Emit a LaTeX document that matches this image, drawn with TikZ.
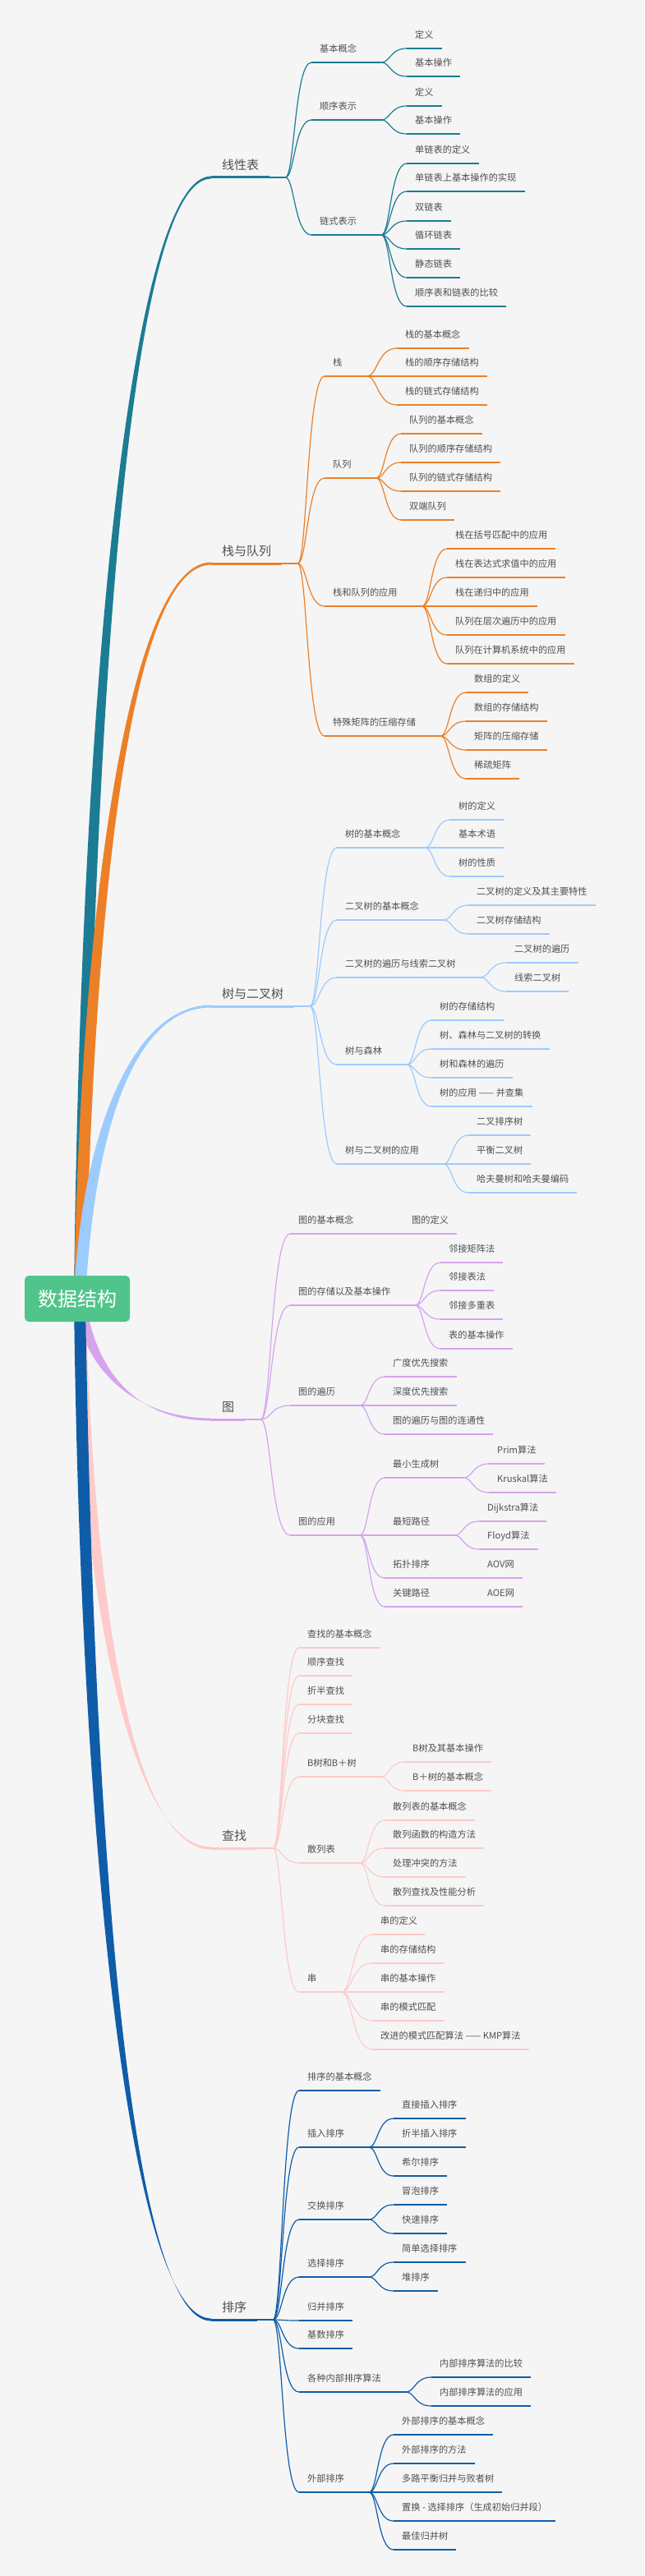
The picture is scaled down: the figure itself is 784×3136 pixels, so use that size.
\documentclass[tikz,border=0pt]{standalone}
\usepackage{fontspec}
\setmainfont{Noto Sans CJK SC}
\usetikzlibrary{calc}

\definecolor{bgGray}{HTML}{F5F5F5}
\definecolor{txtGray}{HTML}{505050}
\definecolor{rootGreen}{HTML}{50C48A}
\definecolor{colLin}{HTML}{1B7C93}
\definecolor{colStk}{HTML}{EC8027}
\definecolor{colTre}{HTML}{9DCBFD}
\definecolor{colGra}{HTML}{D5A4EC}
\definecolor{colSea}{HTML}{FFCACA}
\definecolor{colSrt}{HTML}{0F5DA8}

\begin{document}
\begin{tikzpicture}[x=1pt,y=-1pt,
  lbl/.style={anchor=south west,inner xsep=10pt,inner ysep=12pt,text depth=0pt,
    text=txtGray,font=\fontsize{11.2}{13}\selectfont},
  topic/.style={anchor=south west,inner xsep=13pt,inner ysep=9.5pt,text depth=0pt,
    text=txtGray,font=\fontsize{15}{18}\selectfont},
  rootbox/.style={fill=rootGreen,rounded corners=5pt,text=white,
    font=\fontsize{24}{28}\selectfont,minimum width=128pt,minimum height=56pt},
  twig/.style={line width=1.2pt},
  trunk/.style={line width=3pt}]
  \fill[bgGray] (0,0) rectangle (784,3136);
  \useasboundingbox (0,0) rectangle (784,3136);

  % linear lists
  \begin{scope}[color=colLin]
    \node[topic] (lin) at (257,216) {线性表};
    \coordinate (linFork) at ($(lin.south east)+(19,0)$);
    \node[lbl] (linA) at (379,76) {基本概念};
    \node[lbl] (linA1) at (495,59) {定义};
    \node[lbl] (linA2) at (495,93) {基本操作};
    \node[lbl] (linB) at (379,146) {顺序表示};
    \node[lbl] (linB1) at (495,129) {定义};
    \node[lbl] (linB2) at (495,163) {基本操作};
    \node[lbl] (linC) at (379,286) {链式表示};
    \node[lbl] (linC1) at (495,199) {单链表的定义};
    \node[lbl] (linC2) at (495,233) {单链表上基本操作的实现};
    \node[lbl] (linC3) at (495,269) {双链表};
    \node[lbl] (linC4) at (495,303) {循环链表};
    \node[lbl] (linC5) at (495,338) {静态链表};
    \node[lbl] (linC6) at (495,373) {顺序表和链表的比较};
    \foreach \n in {linA1,linA2,linB1,linB2,linC1,linC2,linC3,linC4,linC5,linC6}
      \draw[twig] (\n.south west) -- (\n.south east);
    \foreach \n in {linA,linB,linC}{
      \coordinate (\n Fork) at ($(\n.south east)+(20,0)$);
      \draw[twig] (\n.south west) -- (\n Fork);
    }
    \foreach \f/\c in {linFork/linA,linFork/linB,linFork/linC,linAFork/linA1,linAFork/linA2,
        linBFork/linB1,linBFork/linB2,linCFork/linC1,linCFork/linC2,linCFork/linC3,
        linCFork/linC4,linCFork/linC5,linCFork/linC6}
      \draw[twig] (\f) .. controls ($(\f)!0.35!(\f-|\c.south west)$)
        and ($(\f|-\c.south west)!0.35!(\c.south west)$) .. (\c.south west);
  \end{scope}

  % stacks and queues
  \begin{scope}[color=colStk]
    \node[topic] (stk) at (257,686) {栈与队列};
    \coordinate (stkFork) at ($(stk.south east)+(19,0)$);
    \node[lbl] (stkA) at (395,458) {栈};
    \node[lbl] (stkA1) at (483,424) {栈的基本概念};
    \node[lbl] (stkA2) at (483,458) {栈的顺序存储结构};
    \node[lbl] (stkA3) at (483,493) {栈的链式存储结构};
    \node[lbl] (stkB) at (395,582) {队列};
    \node[lbl] (stkB1) at (488,528) {队列的基本概念};
    \node[lbl] (stkB2) at (488,563) {队列的顺序存储结构};
    \node[lbl] (stkB3) at (488,598) {队列的链式存储结构};
    \node[lbl] (stkB4) at (488,633) {双端队列};
    \node[lbl] (stkC) at (395,738) {栈和队列的应用};
    \node[lbl] (stkC1) at (544,668) {栈在括号匹配中的应用};
    \node[lbl] (stkC2) at (544,703) {栈在表达式求值中的应用};
    \node[lbl] (stkC3) at (544,738) {栈在递归中的应用};
    \node[lbl] (stkC4) at (544,773) {队列在层次遍历中的应用};
    \node[lbl] (stkC5) at (544,808) {队列在计算机系统中的应用};
    \node[lbl] (stkD) at (395,896) {特殊矩阵的压缩存储};
    \node[lbl] (stkD1) at (567,843) {数组的定义};
    \node[lbl] (stkD2) at (567,878) {数组的存储结构};
    \node[lbl] (stkD3) at (567,913) {矩阵的压缩存储};
    \node[lbl] (stkD4) at (567,948) {稀疏矩阵};
    \foreach \n in {stkA1,stkA2,stkA3,stkB1,stkB2,stkB3,stkB4,stkC1,stkC2,stkC3,stkC4,
        stkC5,stkD1,stkD2,stkD3,stkD4}
      \draw[twig] (\n.south west) -- (\n.south east);
    \foreach \n in {stkA,stkB,stkC,stkD}{
      \coordinate (\n Fork) at ($(\n.south east)+(20,0)$);
      \draw[twig] (\n.south west) -- (\n Fork);
    }
    \foreach \f/\c in {stkFork/stkA,stkFork/stkB,stkFork/stkC,stkFork/stkD,
        stkAFork/stkA1,stkAFork/stkA2,stkAFork/stkA3,stkBFork/stkB1,stkBFork/stkB2,
        stkBFork/stkB3,stkBFork/stkB4,stkCFork/stkC1,stkCFork/stkC2,stkCFork/stkC3,
        stkCFork/stkC4,stkCFork/stkC5,stkDFork/stkD1,stkDFork/stkD2,stkDFork/stkD3,
        stkDFork/stkD4}
      \draw[twig] (\f) .. controls ($(\f)!0.35!(\f-|\c.south west)$)
        and ($(\f|-\c.south west)!0.35!(\c.south west)$) .. (\c.south west);
  \end{scope}

  % trees
  \begin{scope}[color=colTre]
    \node[topic] (tre) at (257,1225) {树与二叉树};
    \coordinate (treFork) at ($(tre.south east)+(19,0)$);
    \node[lbl] (treA) at (410,1032) {树的基本概念};
    \node[lbl] (treA1) at (548,998) {树的定义};
    \node[lbl] (treA2) at (548,1032) {基本术语};
    \node[lbl] (treA3) at (548,1067) {树的性质};
    \node[lbl] (treB) at (410,1120) {二叉树的基本概念};
    \node[lbl] (treB1) at (570,1102) {二叉树的定义及其主要特性};
    \node[lbl] (treB2) at (570,1137) {二叉树存储结构};
    \node[lbl] (treC) at (410,1190) {二叉树的遍历与线索二叉树};
    \node[lbl] (treC1) at (616,1172) {二叉树的遍历};
    \node[lbl] (treC2) at (616,1207) {线索二叉树};
    \node[lbl] (treD) at (410,1296) {树与森林};
    \node[lbl] (treD1) at (525,1242) {树的存储结构};
    \node[lbl] (treD2) at (525,1277) {树、森林与二叉树的转换};
    \node[lbl] (treD3) at (525,1312) {树和森林的遍历};
    \node[lbl] (treD4) at (525,1347) {树的应用 —— 并查集};
    \node[lbl] (treE) at (410,1417) {树与二叉树的应用};
    \node[lbl] (treE1) at (570,1382) {二叉排序树};
    \node[lbl] (treE2) at (570,1417) {平衡二叉树};
    \node[lbl] (treE3) at (570,1452) {哈夫曼树和哈夫曼编码};
    \foreach \n in {treA1,treA2,treA3,treB1,treB2,treC1,treC2,treD1,treD2,treD3,treD4,
        treE1,treE2,treE3}
      \draw[twig] (\n.south west) -- (\n.south east);
    \foreach \n in {treA,treB,treC,treD,treE}{
      \coordinate (\n Fork) at ($(\n.south east)+(20,0)$);
      \draw[twig] (\n.south west) -- (\n Fork);
    }
    \foreach \f/\c in {treFork/treA,treFork/treB,treFork/treC,treFork/treD,treFork/treE,
        treAFork/treA1,treAFork/treA2,treAFork/treA3,treBFork/treB1,treBFork/treB2,
        treCFork/treC1,treCFork/treC2,treDFork/treD1,treDFork/treD2,treDFork/treD3,
        treDFork/treD4,treEFork/treE1,treEFork/treE2,treEFork/treE3}
      \draw[twig] (\f) .. controls ($(\f)!0.35!(\f-|\c.south west)$)
        and ($(\f|-\c.south west)!0.35!(\c.south west)$) .. (\c.south west);
  \end{scope}

  % graphs
  \begin{scope}[color=colGra]
    \node[topic] (gra) at (257,1728) {图};
    \coordinate (graFork) at ($(gra.south east)+(19,0)$);
    \node[lbl] (graA) at (353,1502) {图的基本概念};
    \node[lbl] (graA1) at (491,1502) {图的定义};
    \node[lbl] (graB) at (353,1589) {图的存储以及基本操作};
    \node[lbl] (graB1) at (536,1537) {邻接矩阵法};
    \node[lbl] (graB2) at (536,1571) {邻接表法};
    \node[lbl] (graB3) at (536,1606) {邻接多重表};
    \node[lbl] (graB4) at (536,1642) {表的基本操作};
    \node[lbl] (graC) at (353,1711) {图的遍历};
    \node[lbl] (graC1) at (468,1676) {广度优先搜索};
    \node[lbl] (graC2) at (468,1711) {深度优先搜索};
    \node[lbl] (graC3) at (468,1746) {图的遍历与图的连通性};
    \node[lbl] (graD) at (353,1869) {图的应用};
    \node[lbl] (graD1) at (468,1799) {最小生成树};
    \node[lbl] (graD11) at (595,1782) {Prim算法};
    \node[lbl] (graD12) at (595,1817) {Kruskal算法};
    \node[lbl] (graD2) at (468,1869) {最短路径};
    \node[lbl] (graD21) at (583,1852) {Dijkstra算法};
    \node[lbl] (graD22) at (583,1886) {Floyd算法};
    \node[lbl] (graD3) at (468,1921) {拓扑排序};
    \node[lbl] (graD31) at (583,1921) {AOV网};
    \node[lbl] (graD4) at (468,1956) {关键路径};
    \node[lbl] (graD41) at (583,1956) {AOE网};
    \foreach \n in {graA1,graB1,graB2,graB3,graB4,graC1,graC2,graC3,graD11,graD12,
        graD21,graD22,graD31,graD41}
      \draw[twig] (\n.south west) -- (\n.south east);
    \foreach \n in {graA,graB,graC,graD,graD1,graD2,graD3,graD4}{
      \coordinate (\n Fork) at ($(\n.south east)+(20,0)$);
      \draw[twig] (\n.south west) -- (\n Fork);
    }
    \foreach \f/\c in {graFork/graA,graFork/graB,graFork/graC,graFork/graD,
        graAFork/graA1,graBFork/graB1,graBFork/graB2,graBFork/graB3,graBFork/graB4,
        graCFork/graC1,graCFork/graC2,graCFork/graC3,graDFork/graD1,graDFork/graD2,
        graDFork/graD3,graDFork/graD4,graD1Fork/graD11,graD1Fork/graD12,
        graD2Fork/graD21,graD2Fork/graD22,graD3Fork/graD31,graD4Fork/graD41}
      \draw[twig] (\f) .. controls ($(\f)!0.35!(\f-|\c.south west)$)
        and ($(\f|-\c.south west)!0.35!(\c.south west)$) .. (\c.south west);
  \end{scope}

  % searching
  \begin{scope}[color=colSea]
    \node[topic] (sea) at (257,2250) {查找};
    \coordinate (seaFork) at ($(sea.south east)+(19,0)$);
    \node[lbl] (seaA) at (364,2006) {查找的基本概念};
    \node[lbl] (seaB) at (364,2040) {顺序查找};
    \node[lbl] (seaC) at (364,2075) {折半查找};
    \node[lbl] (seaD) at (364,2110) {分块查找};
    \node[lbl] (seaE) at (364,2163) {B树和B＋树};
    \node[lbl] (seaE1) at (492,2145) {B树及其基本操作};
    \node[lbl] (seaE2) at (492,2180) {B＋树的基本概念};
    \node[lbl] (seaF) at (364,2268) {散列表};
    \node[lbl] (seaF1) at (468,2216) {散列表的基本概念};
    \node[lbl] (seaF2) at (468,2250) {散列函数的构造方法};
    \node[lbl] (seaF3) at (468,2285) {处理冲突的方法};
    \node[lbl] (seaF4) at (468,2320) {散列查找及性能分析};
    \node[lbl] (seaG) at (364,2425) {串};
    \node[lbl] (seaG1) at (453,2355) {串的定义};
    \node[lbl] (seaG2) at (453,2390) {串的存储结构};
    \node[lbl] (seaG3) at (453,2425) {串的基本操作};
    \node[lbl] (seaG4) at (453,2460) {串的模式匹配};
    \node[lbl] (seaG5) at (453,2495) {改进的模式匹配算法 —— KMP算法};
    \foreach \n in {seaA,seaB,seaC,seaD,seaE1,seaE2,seaF1,seaF2,seaF3,seaF4,seaG1,
        seaG2,seaG3,seaG4,seaG5}
      \draw[twig] (\n.south west) -- (\n.south east);
    \foreach \n in {seaE,seaF,seaG}{
      \coordinate (\n Fork) at ($(\n.south east)+(20,0)$);
      \draw[twig] (\n.south west) -- (\n Fork);
    }
    \foreach \f/\c in {seaFork/seaA,seaFork/seaB,seaFork/seaC,seaFork/seaD,seaFork/seaE,
        seaFork/seaF,seaFork/seaG,seaEFork/seaE1,seaEFork/seaE2,seaFFork/seaF1,
        seaFFork/seaF2,seaFFork/seaF3,seaFFork/seaF4,seaGFork/seaG1,seaGFork/seaG2,
        seaGFork/seaG3,seaGFork/seaG4,seaGFork/seaG5}
      \draw[twig] (\f) .. controls ($(\f)!0.35!(\f-|\c.south west)$)
        and ($(\f|-\c.south west)!0.35!(\c.south west)$) .. (\c.south west);
  \end{scope}

  % sorting
  \begin{scope}[color=colSrt]
    \node[topic] (srt) at (257,2824) {排序};
    \coordinate (srtFork) at ($(srt.south east)+(19,0)$);
    \node[lbl] (srtA) at (364,2545) {排序的基本概念};
    \node[lbl] (srtB) at (364,2614) {插入排序};
    \node[lbl] (srtB1) at (479,2579) {直接插入排序};
    \node[lbl] (srtB2) at (479,2614) {折半插入排序};
    \node[lbl] (srtB3) at (479,2649) {希尔排序};
    \node[lbl] (srtC) at (364,2702) {交换排序};
    \node[lbl] (srtC1) at (479,2684) {冒泡排序};
    \node[lbl] (srtC2) at (479,2719) {快速排序};
    \node[lbl] (srtD) at (364,2772) {选择排序};
    \node[lbl] (srtD1) at (479,2754) {简单选择排序};
    \node[lbl] (srtD2) at (479,2789) {堆排序};
    \node[lbl] (srtE) at (364,2825) {归并排序};
    \node[lbl] (srtF) at (364,2859) {基数排序};
    \node[lbl] (srtG) at (364,2912) {各种内部排序算法};
    \node[lbl] (srtG1) at (525,2894) {内部排序算法的比较};
    \node[lbl] (srtG2) at (525,2929) {内部排序算法的应用};
    \node[lbl] (srtH) at (364,3034) {外部排序};
    \node[lbl] (srtH1) at (479,2964) {外部排序的基本概念};
    \node[lbl] (srtH2) at (479,2999) {外部排序的方法};
    \node[lbl] (srtH3) at (479,3034) {多路平衡归并与败者树};
    \node[lbl] (srtH4) at (479,3069) {置换 - 选择排序（生成初始归并段）};
    \node[lbl] (srtH5) at (479,3104) {最佳归并树};
    \foreach \n in {srtA,srtB1,srtB2,srtB3,srtC1,srtC2,srtD1,srtD2,srtE,srtF,srtG1,
        srtG2,srtH1,srtH2,srtH3,srtH4,srtH5}
      \draw[twig] (\n.south west) -- (\n.south east);
    \foreach \n in {srtB,srtC,srtD,srtG,srtH}{
      \coordinate (\n Fork) at ($(\n.south east)+(20,0)$);
      \draw[twig] (\n.south west) -- (\n Fork);
    }
    \foreach \f/\c in {srtFork/srtA,srtFork/srtB,srtFork/srtC,srtFork/srtD,srtFork/srtE,
        srtFork/srtF,srtFork/srtG,srtFork/srtH,srtBFork/srtB1,srtBFork/srtB2,
        srtBFork/srtB3,srtCFork/srtC1,srtCFork/srtC2,srtDFork/srtD1,srtDFork/srtD2,
        srtGFork/srtG1,srtGFork/srtG2,srtHFork/srtH1,srtHFork/srtH2,srtHFork/srtH3,
        srtHFork/srtH4,srtHFork/srtH5}
      \draw[twig] (\f) .. controls ($(\f)!0.35!(\f-|\c.south west)$)
        and ($(\f|-\c.south west)!0.35!(\c.south west)$) .. (\c.south west);
  \end{scope}

  % main branches from the root
  \foreach \n/\yy/\cc in {lin/216/colLin,stk/686/colStk,tre/1225/colTre,
      gra/1728/colGra,sea/2250/colSea,srt/2824/colSrt}{
    \pgfmathsetmacro\cy{\yy+0.45*(1581-\yy)}
    \fill[\cc] (90,1581) .. controls (98,\cy) and (160,\yy-1.5)
      .. ($(\n.south west)+(0,-1.5)$) -- ($(\n.south west)+(0,1.5)$)
      .. controls (160,\yy+1.5) and (114,\cy) .. (104,1581) -- cycle;
    \draw[\cc,trunk] (\n.south west) -- (\n.south east);
    \draw[\cc,twig] (\n.south east) -- (\n Fork);
  }
  \node[rootbox] (ds) at (94,1581) {数据结构};
\end{tikzpicture}
\end{document}
